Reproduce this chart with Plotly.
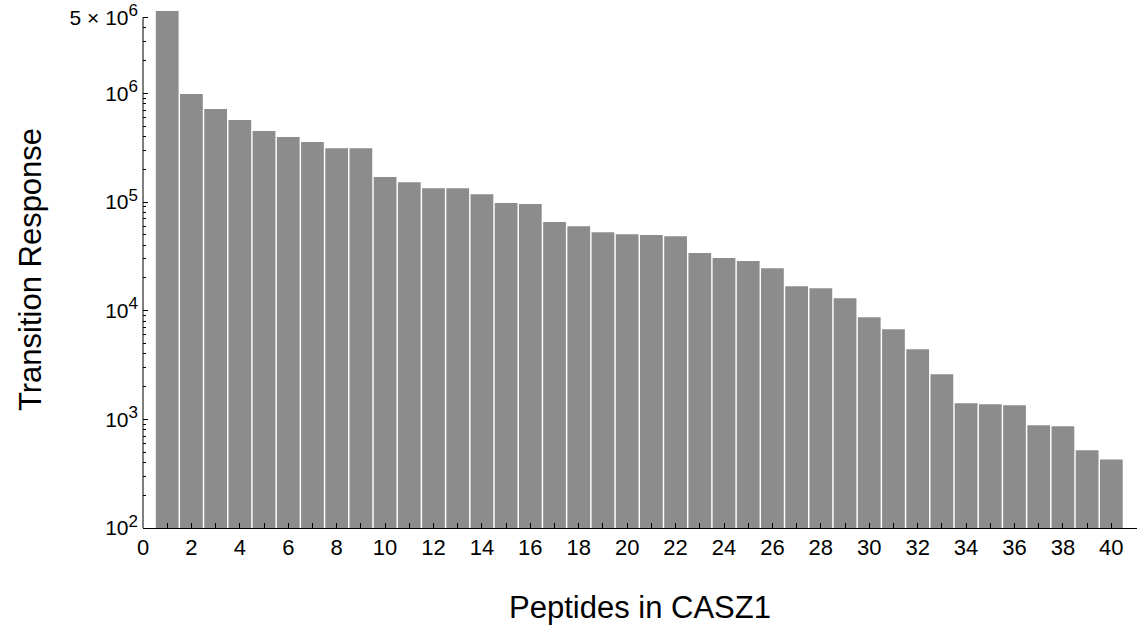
import math
import plotly.graph_objects as go

peptides = list(range(1, 41))
responses = [
    5.73e6, 9.86e5, 7.17e5, 5.68e5, 4.50e5, 3.96e5, 3.56e5, 3.13e5, 3.13e5, 1.70e5,
    1.52e5, 1.34e5, 1.34e5, 1.18e5, 9.77e4, 9.57e4, 6.54e4, 6.00e4, 5.28e4, 5.06e4,
    4.96e4, 4.85e4, 3.39e4, 3.05e4, 2.86e4, 2.46e4, 1.68e4, 1.61e4, 1.30e4, 8.71e3,
    6.76e3, 4.42e3, 2.60e3, 1.41e3, 1.38e3, 1.35e3, 883, 864, 519, 428,
]
y_tick_vals = [1e2, 1e3, 1e4, 1e5, 1e6, 5e6]
y_exponents = ["2", "3", "4", "5", "6", "6"]
y_prefix = ["", "", "", "", "", "5 × "]
y_tick_text = [p + "10<sup><span style='font-size:17px'>" + e + "</span></sup>"
               for p, e in zip(y_prefix, y_exponents)]
x_tick_vals = list(range(0, 41))
x_tick_text = [str(v) if v % 2 == 0 else "" for v in x_tick_vals]

y_axis_min, y_axis_max = 1e2, 5e6
y_view_top = 6.758  # log10 of the top of the drawing area (bar 1 pokes above the axis)

minor_vals = []
for e in range(2, 7):
    for m in range(2, 10):
        v = m * 10 ** e
        if v < y_axis_max:
            minor_vals.append(v)

FONT = "Liberation Sans"

fig = go.Figure(go.Bar(
    x=peptides, y=responses,
    marker=dict(color="#8c8c8c", line=dict(width=0)),
))
fig.update_layout(
    width=1137, height=631,
    margin=dict(l=143, r=0, t=11, b=103),
    plot_bgcolor="white", paper_bgcolor="white",
    bargap=0.06,
    showlegend=False,
    font=dict(family=FONT, color="black"),
)
lo = math.log10(y_axis_min)
frac_top = (math.log10(y_axis_max) - lo) / (y_view_top - lo)
# vertical axis line ending at the top labelled tick (5 × 10^6)
fig.add_shape(type="line", xref="paper", x0=0, x1=0, yref="paper",
              y0=0, y1=frac_top, line=dict(color="black", width=1), layer="above")
fig.update_xaxes(
    range=[0, 41.06],
    tickmode="array", tickvals=x_tick_vals, ticktext=x_tick_text,
    ticks="inside", ticklen=5, tickcolor="black",
    showline=True, linecolor="black", linewidth=1,
    showgrid=False, zeroline=False,
    tickfont=dict(size=22),
    title=dict(text="Peptides in CASZ1", font=dict(size=31), standoff=36),
)
fig.update_yaxes(
    type="log", range=[lo, y_view_top],
    tickmode="array", tickvals=y_tick_vals, ticktext=y_tick_text,
    ticks="inside", ticklen=5, tickcolor="black",
    minor=dict(tickmode="array", tickvals=minor_vals, ticks="inside", ticklen=3, tickcolor="black"),
    showline=False,
    showgrid=False, zeroline=False,
    tickfont=dict(size=21),
    ticklabelstandoff=4,
    title=dict(text="Transition Response", font=dict(size=31), standoff=18),
)
fig.write_html("out.html")
